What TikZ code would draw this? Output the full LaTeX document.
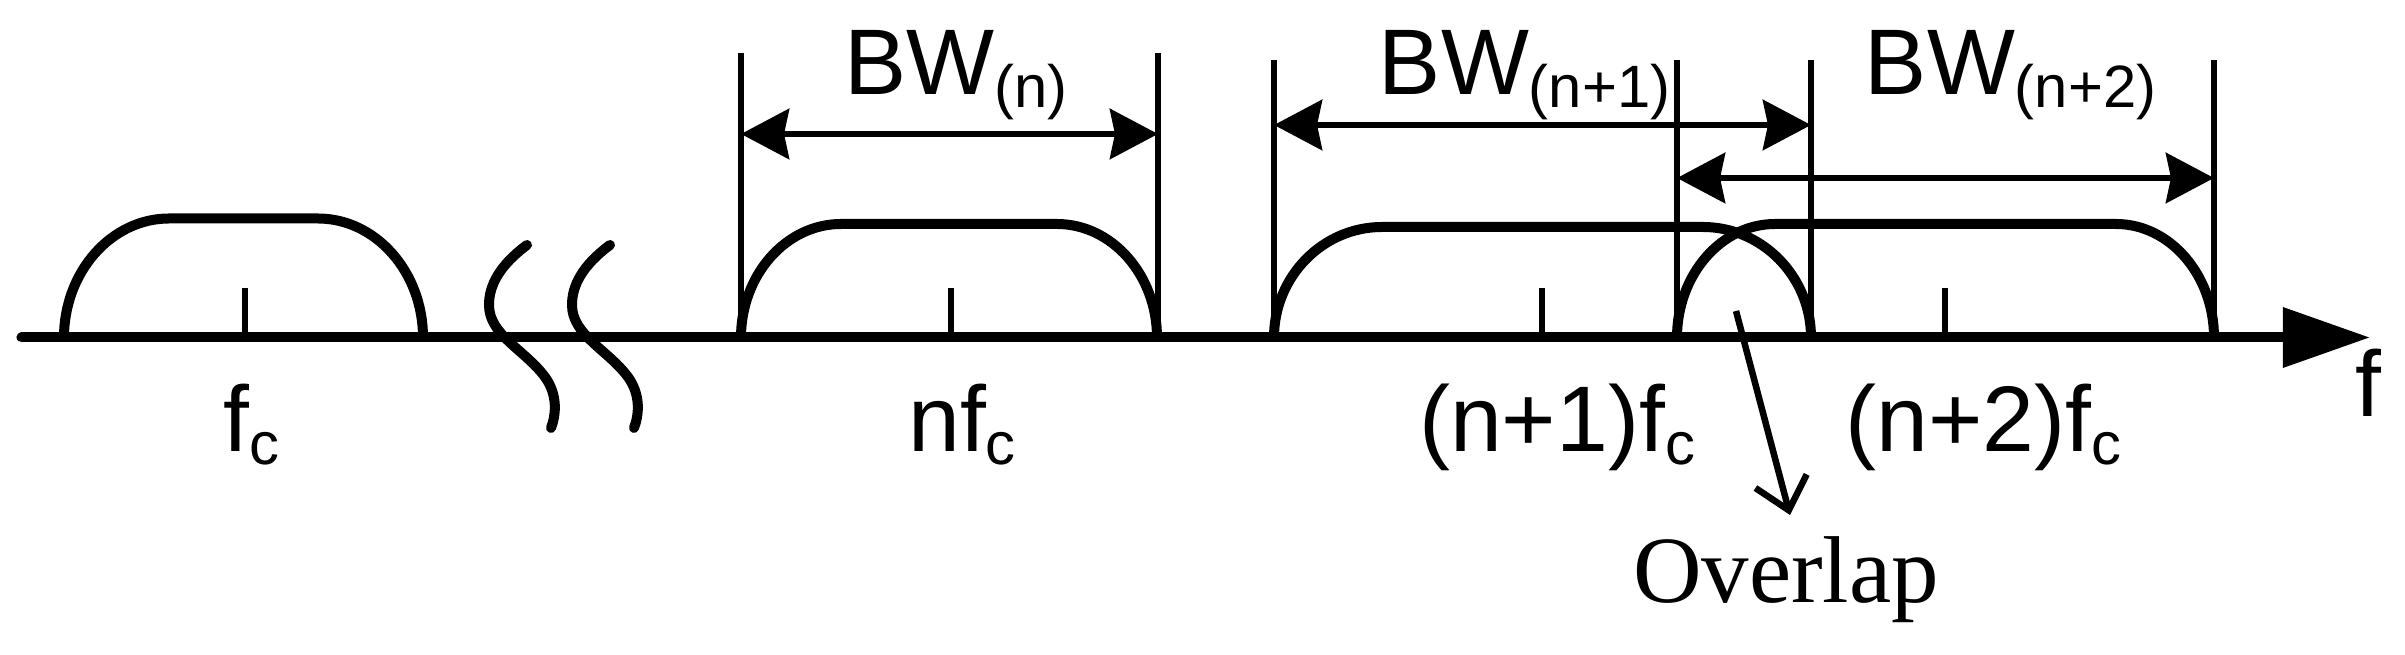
\documentclass[tikz,border=0pt]{standalone}
\usepackage{fontspec}
\setmainfont{Liberation Sans}
\newfontfamily\serifont{Liberation Serif}
\usetikzlibrary{arrows.meta, calc, positioning}

\tikzset{
  spessa/.style={line width=0.1cm},
  sottile/.style={line width=0.065cm},
  quota/.style={sottile,
    {Stealth[length=0.48cm,width=0.5cm,inset=0.05cm]}-{Stealth[length=0.48cm,width=0.5cm,inset=0.05cm]}},
  etich/.style={inner sep=0pt, anchor=base},
}
\newcommand{\pedice}[1]{\raisebox{-0.13cm}{\fontsize{17pt}{17pt}\selectfont #1}}

\begin{document}
\begin{tikzpicture}[x=0.01cm,y=0.01cm,font=\fontsize{26.5pt}{30pt}\selectfont]
\useasboundingbox (0,0) rectangle (2405,655);

% ---- parametri ----
\def\ax{317.5}

% ---- asse delle frequenze ----
\draw[spessa,line cap=round,-{Triangle[length=0.87cm,width=0.58cm]}] (21.5,\ax) -- (2370,\ax);
\node[etich] (lblf) at (2368,238) {f};

% ---- bande (piede sx / piede dx / cima / raccordo) ----
\foreach \l/\r/\t/\c in {64/423/436.5/105, 741/1157/431/100, 1274/1811/428/108, 1677/2214/431/98}
  \draw[spessa] (\l,\ax) .. controls (\l,{\ax+0.55*(\t-\ax)}) and ({\l+0.45*\c},\t) .. ({\l+\c},\t)
    -- ({\r-\c},\t) .. controls ({\r-0.45*\c},\t) and (\r,{\ax+0.55*(\t-\ax)}) .. (\r,\ax);

% tacche centrali
\foreach \x in {245,951,1542,1945}
  \draw[sottile] (\x,\ax) -- (\x,367);

% ---- interruzione dell'asse ----
\foreach \d in {0,83}
  \draw[spessa,line cap=round,shift={(\d,0)}] (527,410) .. controls (500,390) and (489,370) .. (489,350)
    .. controls (489,320) and (525,305) .. (545,278) .. controls (558,260) and (556,240) .. (551,227);

% ---- linee di quota ----
\foreach \x in {741,1158}
  \draw[sottile] (\x,\ax) -- (\x,602);
\foreach \x in {1274,1811,1677,2214}
  \draw[sottile] (\x,\ax) -- (\x,595);

\coordinate (bwn-a) at (741,521);
\coordinate (bwn-b) at (1158,521);
\coordinate (bwn1-a) at (1274,530);
\coordinate (bwn1-b) at (1811,530);
\coordinate (bwn2-a) at (1677,477);
\coordinate (bwn2-b) at (2214,477);
\draw[quota] (bwn-a) -- (bwn-b);
\draw[quota] (bwn1-a) -- (bwn1-b);
\draw[quota] (bwn2-a) -- (bwn2-b);

\node[etich] (bwn) at (956,560) {BW\pedice{(n)}};
\node[etich] (bwn1) at (1524.5,560) {BW\pedice{(n+1)}};
\node[etich] (bwn2) at (2010.5,560) {BW\pedice{(n+2)}};

% ---- etichette delle portanti ----
\node[etich] (fc) at (251,203.5) {f\pedice{c}};
\node[etich] (nfc) at (962,203.5) {nf\pedice{c}};
\node[etich] (n1fc) at (1557,203.5) {(n+1)f\pedice{c}};
\node[etich] (n2fc) at (1983.5,203.5) {(n+2)f\pedice{c}};

% ---- sovrapposizione ----
\node[etich,font=\serifont\fontsize{27pt}{30pt}\selectfont] (overlap) at (1786,52) {Overlap};
\coordinate (ovl-da) at (1736,344);
\coordinate (ovl-punta) at (1790,140);
\draw[sottile,-{Straight Barb[length=0.3cm,width=0.53cm]}] (ovl-da) -- (ovl-punta);

\end{tikzpicture}
\end{document}
